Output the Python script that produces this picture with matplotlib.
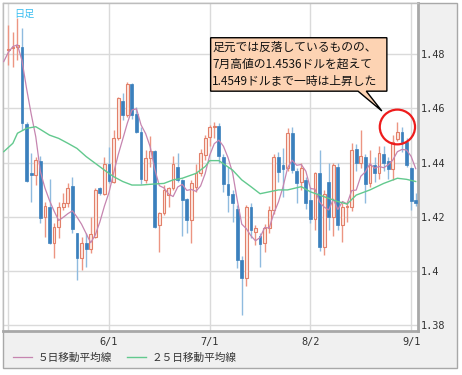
import numpy as np
import matplotlib
matplotlib.use('Agg')
import matplotlib.pyplot as plt
from matplotlib.patches import Rectangle, Polygon, Ellipse

# ユーロ/ドル 日足 2011/5/2 - 9/2 (営業日インデックス 0..89)
opens = [1.4815, 1.4822, 1.4825, 1.4825, 1.4542, 1.4362, 1.4354, 1.4407, 1.4198, 1.4237,
         1.4102, 1.4161, 1.4237, 1.4252, 1.4313, 1.4139, 1.4047, 1.4102, 1.4080, 1.4127,
         1.4305, 1.4283, 1.4395, 1.4329, 1.4492, 1.4628, 1.4575, 1.4689, 1.4579, 1.4514,
         1.4336, 1.4415, 1.4444, 1.4170, 1.4213, 1.4280, 1.4305, 1.4385, 1.4336, 1.4264,
         1.4188, 1.4310, 1.4360, 1.4428, 1.4493, 1.4530, 1.4535, 1.4420, 1.4320, 1.4285,
         1.4230, 1.4040, 1.3975, 1.4235, 1.4145, 1.4130, 1.4105, 1.4160, 1.4225, 1.4420,
         1.4392, 1.4380, 1.4510, 1.4370, 1.4330, 1.4335, 1.4262, 1.4190, 1.4360, 1.4090,
         1.4330, 1.4200, 1.4385, 1.4170, 1.4237, 1.4235, 1.4450, 1.4398, 1.4420, 1.4325,
         1.4390, 1.4360, 1.4432, 1.4405, 1.4375, 1.4486, 1.4514, 1.4475, 1.4378, 1.4262]
highs = [1.4907, 1.4882, 1.4931, 1.4895, 1.4548, 1.4434, 1.4422, 1.4424, 1.4256, 1.4338,
         1.4176, 1.4256, 1.4286, 1.4323, 1.4348, 1.4139, 1.4127, 1.4139, 1.4201, 1.4305,
         1.4311, 1.4422, 1.4458, 1.4520, 1.4643, 1.4655, 1.4698, 1.4692, 1.4606, 1.4530,
         1.4446, 1.4498, 1.4446, 1.4219, 1.4317, 1.4310, 1.4424, 1.4436, 1.4340, 1.4270,
         1.4335, 1.4395, 1.4450, 1.4500, 1.4540, 1.4550, 1.4545, 1.4430, 1.4385, 1.4300,
         1.4245, 1.4055, 1.4245, 1.4250, 1.4170, 1.4140, 1.4175, 1.4240, 1.4430, 1.4440,
         1.4452, 1.4526, 1.4530, 1.4380, 1.4397, 1.4345, 1.4311, 1.4366, 1.4446, 1.4300,
         1.4400, 1.4400, 1.4400, 1.4250, 1.4260, 1.4473, 1.4470, 1.4520, 1.4430, 1.4446,
         1.4420, 1.4460, 1.4460, 1.4420, 1.4502, 1.4551, 1.4532, 1.4490, 1.4385, 1.4287]
lows = [1.4760, 1.4753, 1.4778, 1.4520, 1.4330, 1.4256, 1.4317, 1.4176, 1.4127, 1.4100,
        1.4047, 1.4121, 1.4225, 1.4237, 1.4139, 1.3967, 1.4004, 1.4016, 1.4065, 1.4121,
        1.4280, 1.4280, 1.4323, 1.4323, 1.4483, 1.4557, 1.4569, 1.4560, 1.4508, 1.4320,
        1.4325, 1.4385, 1.4157, 1.4071, 1.4205, 1.4237, 1.4300, 1.4330, 1.4129, 1.4142,
        1.4105, 1.4290, 1.4350, 1.4410, 1.4460, 1.4490, 1.4400, 1.4290, 1.4219, 1.4180,
        1.4010, 1.3838, 1.3945, 1.4120, 1.4096, 1.4016, 1.4071, 1.4140, 1.4210, 1.4330,
        1.4274, 1.4370, 1.4360, 1.4250, 1.4300, 1.4230, 1.4176, 1.4150, 1.4075, 1.4059,
        1.4150, 1.4130, 1.4150, 1.4108, 1.4180, 1.4220, 1.4370, 1.4380, 1.4250, 1.4310,
        1.4330, 1.4340, 1.4370, 1.4340, 1.4336, 1.4480, 1.4440, 1.4385, 1.4225, 1.4240]
closes = [1.4820, 1.4827, 1.4833, 1.4545, 1.4333, 1.4355, 1.4409, 1.4194, 1.4240, 1.4102,
          1.4161, 1.4235, 1.4252, 1.4307, 1.4155, 1.4047, 1.4102, 1.4081, 1.4137, 1.4299,
          1.4286, 1.4395, 1.4332, 1.4492, 1.4637, 1.4575, 1.4689, 1.4575, 1.4514, 1.4340,
          1.4415, 1.4444, 1.4161, 1.4213, 1.4299, 1.4305, 1.4395, 1.4336, 1.4262, 1.4188,
          1.4323, 1.4360, 1.4434, 1.4489, 1.4530, 1.4535, 1.4425, 1.4320, 1.4280, 1.4250,
          1.4040, 1.3975, 1.4235, 1.4150, 1.4158, 1.4100, 1.4160, 1.4225, 1.4420, 1.4365,
          1.4376, 1.4510, 1.4372, 1.4326, 1.4380, 1.4252, 1.4191, 1.4360, 1.4090, 1.4285,
          1.4200, 1.4390, 1.4170, 1.4237, 1.4240, 1.4445, 1.4400, 1.4424, 1.4320, 1.4390,
          1.4360, 1.4434, 1.4400, 1.4375, 1.4477, 1.4514, 1.4475, 1.4390, 1.4258, 1.4250]
# 4/25 - 4/29 の終値 (5日線の計算用)
prev_closes = [1.4650, 1.4720, 1.4800, 1.4840, 1.4850]

# 25日移動平均線 (チャートから読み取り)
ma25_days = [-1, 1, 2, 4, 6, 7, 9, 11, 13, 15, 17, 19, 21, 23, 25, 27, 29, 32, 34, 36,
             38, 41, 43, 44, 46, 49, 51, 53, 55, 57, 59, 61, 64, 66, 69, 72, 74, 76, 79,
             82, 85, 87, 89]
ma25_vals = [1.4440, 1.4471, 1.4508, 1.4526, 1.4532, 1.4522, 1.4501, 1.4489, 1.4471,
             1.4452, 1.4422, 1.4397, 1.4372, 1.4348, 1.4330, 1.4317, 1.4317, 1.4321,
             1.4323, 1.4336, 1.4342, 1.4360, 1.4385, 1.4407, 1.4407, 1.4372, 1.4336,
             1.4311, 1.4285, 1.4292, 1.4299, 1.4299, 1.4311, 1.4292, 1.4274, 1.4256,
             1.4247, 1.4280, 1.4299, 1.4323, 1.4342, 1.4338, 1.4330]

tick_days = [0, 22, 44, 66, 88]
tick_labels = ['', '6/1', '7/1', '8/2', '9/1']
price_ticks = [1.38, 1.40, 1.42, 1.44, 1.46, 1.48]
price_labels = ['1.38', '1.4', '1.42', '1.44', '1.46', '1.48']

note_lines = ['足元では反落しているものの、',
              '7月高値の1.4536ドルを超えて',
              '1.4549ドルまで一時は上昇した']
circle_day = 85

W, H = 462, 375
fig = plt.figure(figsize=(W / 100, H / 100), dpi=100, facecolor='white')

# 外枠のパネル
fig.patches.append(Rectangle((3 / W, 1 - 368 / H), 454 / W, 365 / H,
                             transform=fig.transFigure, facecolor='#f0f0f0',
                             edgecolor='#a8a8a8', lw=1, zorder=-5))

ax = fig.add_axes([3 / W, 1 - 331 / H, 415 / W, 328 / H])
ax.set_zorder(1)
ax.set_facecolor('white')

o = np.array(opens)
h = np.array(highs)
l = np.array(lows)
c = np.array(closes)
days = np.arange(len(c))
up = c >= o

# ひげ
ax.vlines(days[up], l[up], h[up], color='#ec9582', lw=1, zorder=3)
ax.vlines(days[~up], l[~up], h[~up], color='#8fbbdf', lw=1, zorder=3)
# 実体
body = np.maximum(np.abs(c - o), 0.0003)
ax.bar(days[up], body[up], bottom=np.minimum(o, c)[up], width=0.6,
       color='#fde8e1', edgecolor='#e2806a', lw=0.8, zorder=4)
ax.bar(days[~up], body[~up], bottom=np.minimum(o, c)[~up], width=0.62,
       color='#3b80bd', edgecolor='#3b80bd', lw=0.5, zorder=4)

# 移動平均線
all_c = np.array(prev_closes + closes)
ma5 = np.convolve(all_c, np.ones(5) / 5, mode='valid')
ma5_days = np.arange(len(ma5)) - 1
ln5, = ax.plot(ma5_days, ma5, color='#c685b0', lw=0.9, zorder=5)
ln25, = ax.plot(ma25_days, ma25_vals, color='#62c98e', lw=1, zorder=5)

ax.set_xlim(-1.16, 89.5)
ax.set_ylim(1.3779, 1.4988)

ax.set_xticks(tick_days)
ax.set_xticklabels(tick_labels)
ax.set_yticks(price_ticks)
ax.set_yticklabels(price_labels)
ax.yaxis.tick_right()
ax.grid(True, color='#dadada', lw=1)
ax.set_axisbelow(True)
ax.tick_params(length=0, labelsize=7.4, colors='#333333')
ax.tick_params(axis='y', pad=2)
ax.tick_params(axis='x', pad=4)
for lab in ax.get_xticklabels() + ax.get_yticklabels():
    lab.set_family('DejaVu Sans Mono')
for s in ['left', 'top']:
    ax.spines[s].set_color('#bdbdbd')
    ax.spines[s].set_linewidth(1)
for s in ['right', 'bottom']:
    ax.spines[s].set_color('#a8a8a8')
    ax.spines[s].set_linewidth(2)

# 日足
ax.text(0.026, 0.982, '日足', transform=ax.transAxes, color='#38bdf0',
        fontsize=7.3, family=['Noto Sans CJK JP'], va='top', ha='left')

# 高値の丸
ax.add_patch(Ellipse((circle_day, h[circle_day] - 0.002), 7.7, 0.0128,
                     facecolor='none', edgecolor='#ee1c1c', lw=1.6, zorder=7))

# 吹き出し
box_x0, box_x1 = 44.2, 82.7
box_y0, box_y1 = 1.4663, 1.4860
tip = (81.6, 1.4590)
callout = Polygon([(box_x0, box_y1), (box_x1, box_y1), (box_x1, box_y0),
                   (78.2, box_y0), tip, (76.4, box_y0), (box_x0, box_y0)],
                  closed=True, facecolor='#fdd3b3', edgecolor='black', lw=1, zorder=8)
ax.add_patch(callout)
for k, line in enumerate(note_lines):
    ax.text(212 / 415 - 3 / 415, 1 - (47 + 17 * k - 3) / 328, line, transform=ax.transAxes,
            fontsize=8.5, family=['Noto Sans CJK JP', 'DejaVu Sans'], color='#111111',
            va='center', ha='left', zorder=9)

# 凡例
fig.legend([ln5, ln25], ['５日移動平均線', '２５日移動平均線'], ncol=2,
           loc='center left', bbox_to_anchor=(13 / W, 1 - 358 / H), frameon=False,
           prop={'family': ['Noto Sans CJK JP'], 'size': 7.7}, labelcolor='#333333',
           handlelength=1.8, handletextpad=0.5, columnspacing=1.4, borderpad=0,
           borderaxespad=0)

fig.savefig('out.png', dpi=100)
